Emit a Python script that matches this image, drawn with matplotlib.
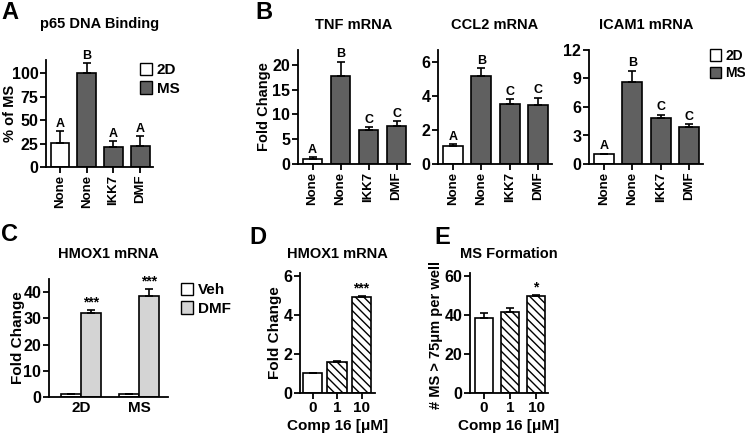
#!/usr/bin/env python3
"""Multi-panel bar figure: p65 binding, cytokine mRNA, HMOX1 and MS formation."""

import matplotlib
matplotlib.use('Agg')
import matplotlib.pyplot as plt
from matplotlib.patches import Patch
import numpy as np

plt.rcParams['font.family'] = ['Liberation Sans', 'DejaVu Sans']
plt.rcParams['font.weight'] = 'bold'
plt.rcParams['axes.labelweight'] = 'bold'
plt.rcParams['axes.titleweight'] = 'bold'
plt.rcParams['hatch.linewidth'] = 1.0

# ---- data ----
treat_labels = ['None', 'None', 'IKK7', 'DMF']
treat_groups = ['2D', 'MS', 'MS', 'MS']

p65_vals = [25.5, 100, 21, 22.5]
p65_err = [13, 11, 7, 10.5]
p65_sig = ['A', 'B', 'A', 'A']

tnf_vals = [1.1, 17.8, 6.9, 7.6]
tnf_err = [0.3, 2.8, 0.5, 1.0]
ccl2_vals = [1.05, 5.2, 3.5, 3.45]
ccl2_err = [0.12, 0.42, 0.3, 0.45]
icam1_vals = [1.05, 8.6, 4.8, 3.9]
icam1_err = [0.05, 1.2, 0.4, 0.3]
abc_sig = ['A', 'B', 'C', 'C']

hmox_groups = ['2D', 'MS']
hmox_veh = [1.0, 1.1]
hmox_veh_err = [0.1, 0.1]
hmox_dmf = [32.2, 38.7]
hmox_dmf_err = [1.0, 2.3]

comp16_doses = ['0', '1', '10']
comp16_hmox = [1.0, 1.6, 4.9]
comp16_hmox_err = [0.0, 0.04, 0.06]
comp16_ms = [38.2, 41.4, 49.6]
comp16_ms_err = [2.8, 2.3, 0.6]

DARK = '#606060'
LIGHT = '#d4d4d4'

W, H = 745, 436
fig = plt.figure(figsize=(W / 100, H / 100), dpi=100)


def px_axes(x0, x1, ytop, ybot):
    ax = fig.add_axes([x0 / W, (H - ybot) / H, (x1 - x0) / W, (ybot - ytop) / H])
    for s in ('top', 'right'):
        ax.spines[s].set_visible(False)
    for s in ('left', 'bottom'):
        ax.spines[s].set_linewidth(1.3)
    ax.tick_params(width=1.3, length=4, labelsize=11.5, pad=1.5)
    return ax


def bars(ax, x, vals, errs, colors, width, hatch=None):
    ax.bar(x, vals, width=width, color=colors, edgecolor='black',
           linewidth=1.2, hatch=hatch, zorder=2)
    ax.errorbar(x, vals, yerr=[np.zeros(len(vals)), errs], fmt='none',
                ecolor='black', elinewidth=1.2, capsize=3, capthick=1.2, zorder=3)


def sig_text(ax, x, vals, errs, labels, offset, size=9):
    for xi, v, e, s in zip(x, vals, errs, labels):
        ax.text(xi, v + e + offset, s, ha='center', va='bottom',
                fontsize=size, fontweight='bold')


def treatment_panel(ax, vals, errs, sig, ylim, yticks, title, offset, pad):
    x = np.arange(len(vals))
    colors = ['white' if g == '2D' else DARK for g in treat_groups]
    bars(ax, x, vals, errs, colors, 0.7)
    sig_text(ax, x, vals, errs, sig, offset)
    ax.set_xlim(-0.52, 3.48)
    ax.set_ylim(*ylim)
    ax.set_yticks(yticks)
    ax.set_xticks(x)
    ax.set_xticklabels(treat_labels, rotation=90, fontsize=9.5, fontweight='bold')
    ax.set_title(title, fontsize=10.5, fontweight='bold', pad=pad)


legend_2d_ms = [Patch(facecolor='white', edgecolor='black', label='2D'),
                Patch(facecolor=DARK, edgecolor='black', label='MS')]
leg_kw = dict(frameon=False, handlelength=0.8, handleheight=0.9,
              handletextpad=0.3, labelspacing=0.25, borderaxespad=0, borderpad=0)

# ---- A ----
axA = px_axes(46, 153, 60, 167)
treatment_panel(axA, p65_vals, p65_err, p65_sig, (0, 114), [0, 25, 50, 75, 100],
                'p65 DNA Binding', 1, 23)
axA.set_ylabel('% of MS', fontsize=10.5)
axA.yaxis.set_label_coords(-0.27, 0.5)
axA.legend(handles=legend_2d_ms, loc='upper left', bbox_to_anchor=(0.88, 0.975),
           prop={'weight': 'bold', 'size': 11}, **leg_kw)

# ---- B ----
axB1 = px_axes(298, 410, 50, 164)
treatment_panel(axB1, tnf_vals, tnf_err, abc_sig, (0, 23), [0, 5, 10, 15, 20],
                'TNF mRNA', 0.3, 15)
axB1.set_ylabel('Fold Change', fontsize=10.5)
axB1.yaxis.set_label_coords(-0.245, 0.5)

axB2 = px_axes(438, 552, 50, 164)
treatment_panel(axB2, ccl2_vals, ccl2_err, abc_sig, (0, 6.7), [0, 2, 4, 6],
                'CCL2 mRNA', 0.08, 15)

axB3 = px_axes(589, 703, 50, 164)
treatment_panel(axB3, icam1_vals, icam1_err, abc_sig, (0, 12), [0, 3, 6, 9, 12],
                'ICAM1 mRNA', 0.15, 15)
axB3.legend(handles=legend_2d_ms, loc='upper left', bbox_to_anchor=(1.062, 1.01),
            prop={'weight': 'bold', 'size': 10}, **leg_kw)

# ---- C ----
axC = px_axes(49, 168, 279, 397)
xg = np.arange(len(hmox_groups))
bw = 0.345
bars(axC, xg - bw / 2, hmox_veh, hmox_veh_err, 'white', bw)
bars(axC, xg + bw / 2, hmox_dmf, hmox_dmf_err, LIGHT, bw)
sig_text(axC, xg + bw / 2, hmox_dmf, hmox_dmf_err, ['***', '***'], 0.3, size=10)
axC.set_xlim(-0.55, 1.5)
axC.set_ylim(0, 45)
axC.set_yticks([0, 10, 20, 30, 40])
axC.set_xticks(xg)
axC.set_xticklabels(hmox_groups, fontsize=11, fontweight='bold')
axC.tick_params(axis='x', length=0, pad=3)
axC.set_title('HMOX1 mRNA', fontsize=10.5, fontweight='bold', pad=15)
axC.set_ylabel('Fold Change', fontsize=11)
axC.yaxis.set_label_coords(-0.2, 0.5)
legend_c = [Patch(facecolor='white', edgecolor='black', label='Veh'),
            Patch(facecolor=LIGHT, edgecolor='black', label='DMF')]
axC.legend(handles=legend_c, loc='upper left', bbox_to_anchor=(1.11, 0.97),
           prop={'weight': 'bold', 'size': 11}, **leg_kw)

# ---- D ----
xd = np.arange(len(comp16_doses))
axD = px_axes(300, 375, 273, 393)
bars(axD, xd[:1], comp16_hmox[:1], comp16_hmox_err[:1], 'white', 0.78)
bars(axD, xd[1:], comp16_hmox[1:], comp16_hmox_err[1:], 'white', 0.78, hatch='\\\\\\\\')
sig_text(axD, xd[2:], comp16_hmox[2:], comp16_hmox_err[2:], ['***'], 0.05, size=10)
axD.set_xlim(-0.51, 2.55)
axD.set_ylim(0, 6.15)
axD.set_yticks([0, 2, 4, 6])
axD.set_xticks(xd)
axD.set_xticklabels(comp16_doses, fontsize=11, fontweight='bold')
axD.set_xlabel('Comp 16 [\u03bcM]', fontsize=11, labelpad=3)
axD.set_title('HMOX1 mRNA', fontsize=10.5, fontweight='bold', pad=11)
axD.set_ylabel('Fold Change', fontsize=11)
axD.yaxis.set_label_coords(-0.24, 0.5)

# ---- E ----
axE = px_axes(470, 548, 273, 393)
bars(axE, xd[:1], comp16_ms[:1], comp16_ms_err[:1], 'white', 0.7)
bars(axE, xd[1:], comp16_ms[1:], comp16_ms_err[1:], 'white', 0.7, hatch='\\\\\\\\')
sig_text(axE, xd[2:], comp16_ms[2:], comp16_ms_err[2:], ['*'], 0.3, size=10)
axE.set_xlim(-0.54, 2.46)
axE.set_ylim(0, 61.5)
axE.set_yticks([0, 20, 40, 60])
axE.set_xticks(xd)
axE.set_xticklabels(comp16_doses, fontsize=11, fontweight='bold')
axE.set_xlabel('Comp 16 [\u03bcM]', fontsize=11, labelpad=3)
axE.set_title('MS Formation', fontsize=10.5, fontweight='bold', pad=11)
axE.set_ylabel('# MS > 75\u03bcm per well', fontsize=10.5)
axE.yaxis.set_label_coords(-0.34, 0.48)

for ax in fig.axes:
    for lab in ax.get_yticklabels() + ax.get_xticklabels():
        lab.set_fontweight('bold')

# ---- panel letters ----
for letter, (lx, ly) in {'A': (1, 1), 'B': (255, 1), 'C': (1, 223),
                         'D': (249, 226), 'E': (434, 226)}.items():
    fig.text(lx / W, 1 - ly / H, letter, fontsize=17, fontweight='bold', va='top')

fig.savefig('out.png', dpi=100)
